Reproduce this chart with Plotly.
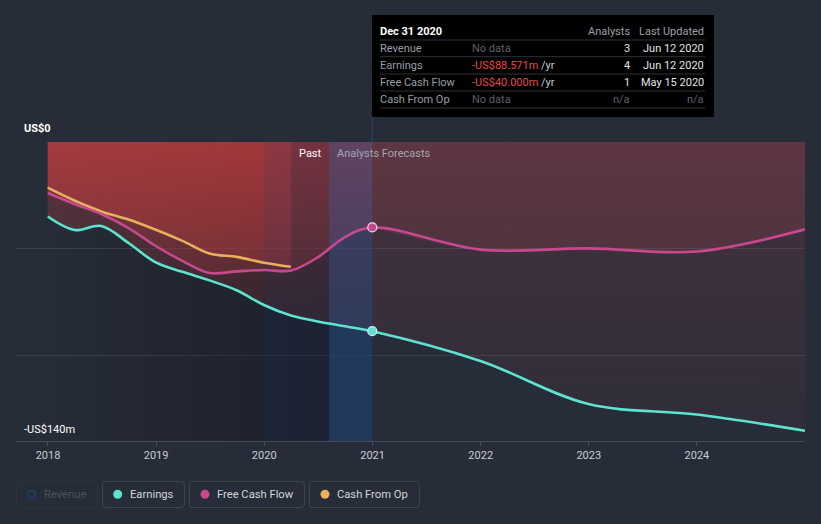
import plotly.graph_objects as go

# ---------------- data ----------------
PAST_DATES = ['2017-12-31', '2018-03-31', '2018-06-30', '2018-09-30', '2018-12-31',
              '2019-03-31', '2019-06-30', '2019-09-30', '2019-12-31', '2020-03-31',
              '2020-06-30', '2020-09-30', '2020-12-31']
EARNINGS_PAST = [-34.9, -41.2, -39.3, -47.3, -56.4, -60.8, -64.8, -69.4, -76.3, -81.2,
                 -84.0, -86.3, -88.571]
FCF_PAST = [-23.9, -29.0, -33.7, -40.3, -48.7, -55.7, -61.3, -60.6, -59.9, -60.2,
            -54.0, -44.5, -40.0]
CFO_DATES = PAST_DATES[:10]
CFO_PAST = [-21.4, -27.4, -32.5, -36.3, -41.1, -46.3, -52.2, -53.8, -56.5, -58.4]

FORECAST_DATES = ['2020-12-31', '2021-12-31', '2022-12-31', '2023-12-31', '2024-12-31']
EARNINGS_FC = [-88.571, -102.5, -122.7, -127.6, -135.2]
FCF_FC = [-40.0, -50.4, -49.8, -51.3, -40.9]

YEAR_TICKS = ['2018-01-01', '2019-01-01', '2020-01-01', '2021-01-01',
              '2022-01-01', '2023-01-01', '2024-01-01']
YEAR_LABELS = ['2018', '2019', '2020', '2021', '2022', '2023', '2024']
GRID_VALUES = [0, -50, -100]
Y_RANGE = [-140, 0]
X_RANGE = ['2017-09-15', '2024-12-31']

TIP_DATE = 'Dec 31 2020'
TIP_ROWS = ['Revenue', 'Earnings', 'Free Cash Flow', 'Cash From Op']
TIP_VALUES = [None, EARNINGS_FC[0], FCF_FC[0], None]
TIP_ANALYSTS = ['3', '4', '1', 'n/a']
TIP_UPDATED = ['Jun 12 2020', 'Jun 12 2020', 'May 15 2020', 'n/a']

LEGEND_NAMES = ['Revenue', 'Earnings', 'Free Cash Flow', 'Cash From Op']

# decoration boundaries
PAST_START = '2017-12-31'
LAST_YEAR = '2020-01-01'
NOW = '2020-08-07'
FC_START = '2020-12-31'

# ---------------- style ----------------
BG = '#262c38'
C_EARN = '#5de3cf'
C_FCF = '#c8488f'
C_CFO = '#e8b05b'
C_REV = '#1e4470'
FONT = 'Roboto, sans-serif'

W, H = 821, 524
L, R, T, B = 16, 16, 142, 83


def X(px):
    return (px - L) / (W - L - R)


def Y(py):
    return (H - B - py) / (H - T - B)


def grad(rgb, a_low, a_high):
    return dict(type='vertical',
                colorscale=[[0, f'rgba({rgb},{a_low})'], [1, f'rgba({rgb},{a_high})']],
                start=Y_RANGE[0], stop=Y_RANGE[1])


def rounded_rect(x0, y0, x1, y1, r):
    # pixel coords -> paper path with rounded corners
    pts = []
    pts.append(f'M {X(x0 + r)},{Y(y0)}')
    pts.append(f'L {X(x1 - r)},{Y(y0)}')
    pts.append(f'Q {X(x1)},{Y(y0)} {X(x1)},{Y(y0 + r)}')
    pts.append(f'L {X(x1)},{Y(y1 - r)}')
    pts.append(f'Q {X(x1)},{Y(y1)} {X(x1 - r)},{Y(y1)}')
    pts.append(f'L {X(x0 + r)},{Y(y1)}')
    pts.append(f'Q {X(x0)},{Y(y1)} {X(x0)},{Y(y1 - r)}')
    pts.append(f'L {X(x0)},{Y(y0 + r)}')
    pts.append(f'Q {X(x0)},{Y(y0)} {X(x0 + r)},{Y(y0)} Z')
    return ' '.join(pts)


fig = go.Figure()

# dark horizontal gradient of the past area
fig.add_trace(go.Scatter(
    x=[PAST_START, FC_START, FC_START, PAST_START, PAST_START],
    y=[Y_RANGE[1], Y_RANGE[1], Y_RANGE[0], Y_RANGE[0], Y_RANGE[1]],
    mode='none', fill='toself', hoverinfo='skip', showlegend=False,
    fillgradient=dict(type='horizontal',
                      colorscale=[[0, 'rgba(8,9,12,0)'], [0.87, 'rgba(8,9,12,0.36)'],
                                  [1, 'rgba(8,9,12,0.36)']])))

PAST_RED = '229,66,65'
FC_RED = '200,73,84'

# fills to zero (past)
for xs, ys in [(PAST_DATES, EARNINGS_PAST), (PAST_DATES, FCF_PAST), (CFO_DATES, CFO_PAST)]:
    fig.add_trace(go.Scatter(x=xs, y=ys, mode='none', fill='tozeroy',
                             line=dict(shape='spline', smoothing=1),
                             fillgradient=grad(PAST_RED, 0.0, 0.3),
                             hoverinfo='skip', showlegend=False))
# fills to zero (forecast)
for ys in [EARNINGS_FC, FCF_FC]:
    fig.add_trace(go.Scatter(x=FORECAST_DATES, y=ys, mode='none', fill='tozeroy',
                             line=dict(shape='spline', smoothing=1),
                             fillgradient=grad(FC_RED, 0.05, 0.19),
                             hoverinfo='skip', showlegend=False))

# bands
for x0, x1, col in [(LAST_YEAR, NOW, 'rgba(20,60,120,0.13)'),
                    (NOW, FC_START, 'rgba(45,95,165,0.40)')]:
    fig.add_trace(go.Scatter(
        x=[x0, x1, x1, x0, x0],
        y=[Y_RANGE[1], Y_RANGE[1], Y_RANGE[0], Y_RANGE[0], Y_RANGE[1]],
        mode='none', fill='toself', fillcolor=col, hoverinfo='skip', showlegend=False))

# lines
fig.add_trace(go.Scatter(x=CFO_DATES, y=CFO_PAST, mode='lines',
                         line=dict(color=C_CFO, width=2.6, shape='spline', smoothing=1),
                         hoverinfo='skip', showlegend=False))
fig.add_trace(go.Scatter(x=PAST_DATES + FORECAST_DATES[1:], y=FCF_PAST + FCF_FC[1:], mode='lines',
                         line=dict(color=C_FCF, width=2.6, shape='spline', smoothing=1),
                         hoverinfo='skip', showlegend=False))
fig.add_trace(go.Scatter(x=PAST_DATES + FORECAST_DATES[1:], y=EARNINGS_PAST + EARNINGS_FC[1:],
                         mode='lines',
                         line=dict(color=C_EARN, width=2.6, shape='spline', smoothing=1),
                         hoverinfo='skip', showlegend=False))

# hover dots
for val, col in [(FCF_FC[0], C_FCF), (EARNINGS_FC[0], C_EARN)]:
    fig.add_trace(go.Scatter(x=[FORECAST_DATES[0]], y=[val], mode='markers',
                             marker=dict(size=9, color=col, line=dict(color='#e6e6ee', width=1.2)),
                             hoverinfo='skip', showlegend=False))

shapes = []
annotations = []

# connector line from tooltip
shapes.append(dict(type='line', xref='x', yref='paper', x0=FC_START, x1=FC_START,
                   y0=1, y1=Y(117), line=dict(color='#2a4a72', width=1)))

# tooltip box
shapes.append(dict(type='rect', xref='paper', yref='paper', x0=X(372), x1=X(714),
                   y0=Y(117), y1=Y(15), fillcolor='#000000', line=dict(width=0), layer='above'))
for py in [40, 56.7, 74, 91, 108]:
    shapes.append(dict(type='line', xref='paper', yref='paper', x0=X(380), x1=X(705),
                       y0=Y(py), y1=Y(py), line=dict(color='#2f3236', width=1), layer='above'))


def ann(text, px, py, anchor='left', color='#ffffff', size=11, bold=False):
    if bold:
        text = f'<b>{text}</b>'
    shift = -1 if anchor == 'left' else 1
    annotations.append(dict(text=text, x=X(px + shift), y=Y(py), xref='paper', yref='paper',
                            xanchor=anchor, yanchor='middle', showarrow=False, borderpad=0,
                            font=dict(family=FONT, size=size, color=color)))


ann(TIP_DATE, 380, 31, bold=True)
ann('Analysts', 629.5, 31, 'right', '#9aa0a8')
ann('Last Updated', 704, 31, 'right', '#9aa0a8')
row_y = [48.3, 65.5, 82.5, 99.5]
for name, val, an, up, py in zip(TIP_ROWS, TIP_VALUES, TIP_ANALYSTS, TIP_UPDATED, row_y):
    ann(name, 380, py, 'left', '#9a9fa7')
    if val is None:
        ann('No data', 472, py, 'left', '#5d636c')
    else:
        ann(f"<span style='color:#e8484c'>-US${abs(val):.3f}m</span> /yr", 472, py, 'left',
            '#c9ccd1')
    dim = an == 'n/a'
    ann(an, 629.5, py, 'right', '#5d636c' if dim else '#e2e4e8')
    ann(up, 704, py, 'right', '#5d636c' if dim else '#e2e4e8')

# y labels
ann('US$0', 24, 128.5, 'left', '#ffffff', 11, bold=True)
ann('-US$140m', 24, 429, 'left', '#ffffff', 11)

# Past / Analysts Forecasts
ann('Past', 322, 153.5, 'right', '#ffffff', 11)
ann('Analysts Forecasts', 337, 153.5, 'left', '#a3a6b2', 11)

# legend
boxes = [(16.5, 97.5), (102.5, 184.3), (189.5, 304.3), (309.5, 419.3)]
dots = [31.7, 117.7, 205, 325]
texts = [44.3, 130, 217, 337.3]
cols = [C_REV, C_EARN, C_FCF, C_CFO]
for i, name in enumerate(LEGEND_NAMES):
    bx0, bx1 = boxes[i]
    shapes.append(dict(type='path', xref='paper', yref='paper',
                       path=rounded_rect(bx0, 481.5, bx1, 507.5, 3),
                       fillcolor='rgba(0,0,0,0)',
                       line=dict(color='#2e343f' if i == 0 else '#3f4653', width=1)))
    if i == 0:
        shapes.append(dict(type='circle', xref='paper', yref='paper',
                           xsizemode='pixel', ysizemode='pixel',
                           xanchor=X(dots[i]), yanchor=Y(494.3), x0=-3.7, x1=3.7, y0=-3.7, y1=3.7,
                           fillcolor='rgba(0,0,0,0)', line=dict(color=cols[i], width=1.5)))
    else:
        shapes.append(dict(type='circle', xref='paper', yref='paper',
                           xsizemode='pixel', ysizemode='pixel',
                           xanchor=X(dots[i]), yanchor=Y(494.3), x0=-4.5, x1=4.5, y0=-4.5, y1=4.5,
                           fillcolor=cols[i], line=dict(width=0)))
    ann(name, texts[i], 494.3, 'left', '#4b525e' if i == 0 else '#d3d6db', 11.2)

fig.update_layout(
    width=W, height=H, autosize=False,
    margin=dict(l=L, r=R, t=T, b=B, pad=0),
    paper_bgcolor=BG, plot_bgcolor=BG,
    showlegend=False,
    shapes=shapes, annotations=annotations,
    font=dict(family=FONT),
    xaxis=dict(type='date', range=X_RANGE, tickvals=YEAR_TICKS, ticktext=YEAR_LABELS,
               showgrid=False, zeroline=False, showline=True, linecolor='#464c57', linewidth=1,
               ticks='outside', ticklen=4, tickcolor='#464c57', tickwidth=1,
               tickfont=dict(family=FONT, size=11, color='#c9ccd2')),
    yaxis=dict(range=Y_RANGE, tickvals=GRID_VALUES, showticklabels=False,
               showgrid=True, gridcolor='#3a404b', gridwidth=1, zeroline=False,
               showline=False),
)

fig.write_html('out.html', config={'displayModeBar': False},
               post_script="document.body.style.margin='0';"
                           "document.body.style.background='" + BG + "';")
